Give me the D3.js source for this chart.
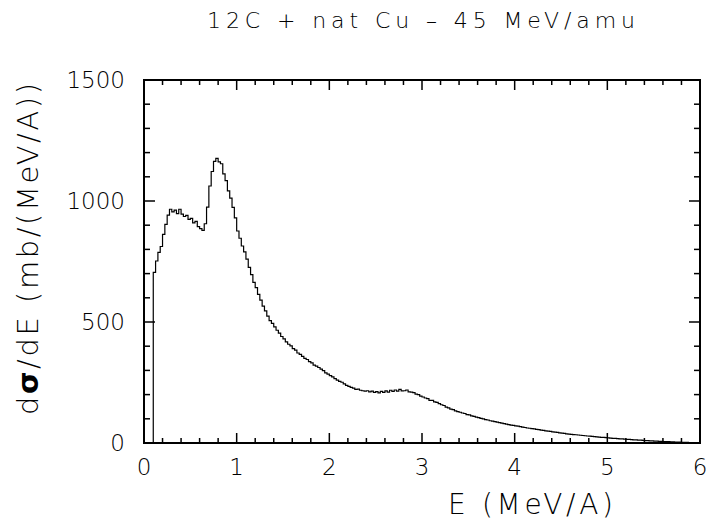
<!DOCTYPE html>
<html>
<head>
<meta charset="utf-8">
<script src="https://cdn.jsdelivr.net/npm/d3@7"></script>
<style>
  body { margin: 0; background: #fff; }
  svg { display: block; }
  text { font-family: "DejaVu Sans", "Liberation Sans", sans-serif; font-weight: 200; fill: #000; }
</style>
</head>
<body>
<svg width="706" height="524"></svg>
<script>
// histogram: 0 -> 6 MeV/A, bin width 0.025
const binWidth = 0.025;
const xDomain = [0, 6];
const yDomain = [0, 1500];
const xTickLabels = ["0", "1", "2", "3", "4", "5", "6"];
const yTickLabels = ["0", "500", "1000", "1500"];
const titleText = "12C  +  nat  Cu  \u2013  45  MeV/amu";

const counts = [
  0, 0, 0, 0,
  705, 752, 788, 812,
  862, 903, 942, 966,
  955, 962, 948, 966,
  946, 936, 941, 924,
  928, 910, 916, 894,
  886, 879, 906, 975,
  1062, 1122, 1164, 1176,
  1162, 1154, 1112, 1084,
  1042, 1012, 974, 930,
  876, 846, 814, 790,
  760, 726, 696, 664,
  642, 614, 590, 566,
  546, 524, 506, 494,
  480, 466, 454, 440,
  430, 418, 408, 401,
  390, 384, 372, 366,
  358, 350, 345, 336,
  331, 322, 318, 312,
  305, 299, 290, 285,
  278, 273, 266, 260,
  255, 251, 244, 238,
  234, 230, 227, 222,
  223, 218, 216, 214,
  216, 211, 214, 209,
  212, 207, 213, 209,
  215, 210, 218, 213,
  219, 214, 222, 215,
  216, 219, 211, 210,
  208, 202, 200, 194,
  190, 186, 183, 176,
  176, 170, 168, 163,
  158, 155, 148, 145,
  140, 138, 133, 130,
  127, 124, 122, 117,
  116, 112, 110, 107,
  105, 102, 100, 97,
  95, 92, 90, 88,
  86, 84, 82, 80,
  78, 76, 74, 73,
  71, 70, 68, 66,
  64, 62, 61, 59,
  58, 56, 55, 53,
  52, 50, 49, 48,
  46, 45, 44, 42,
  41, 40, 38, 37,
  36, 35, 34, 33,
  32, 31, 30, 29,
  28, 27, 26, 25,
  24, 23, 23, 22,
  21, 20, 19, 19,
  18, 17, 17, 16,
  15, 15, 14, 13,
  13, 12, 12, 11,
  10, 10, 9, 9,
  8, 8, 7, 7,
  6, 6, 6, 5,
  5, 4, 4, 4,
  3, 3, 3, 2,
  2, 2, 1, 1
];

const svg = d3.select("svg");
const frame = { left: 144, right: 700, top: 80, bottom: 443 };

const x = d3.scaleLinear().domain(xDomain).range([frame.left, frame.right]);
const y = d3.scaleLinear().domain(yDomain).range([frame.bottom, frame.top]);

// histogram as a step line
const pts = counts.map((c, i) => [i * binWidth, c]);
pts.push([counts.length * binWidth, counts[counts.length - 1]]);

const line = d3.line()
    .x(d => x(d[0]))
    .y(d => y(d[1]))
    .curve(d3.curveStepAfter);

svg.append("path")
    .datum(pts)
    .attr("fill", "none")
    .attr("stroke", "#000")
    .attr("stroke-width", 1.2)
    .attr("d", line);

// ticks (major + minor) on all four sides
const xMinor = d3.range(0, 6.0001, 0.2).map(v => +v.toFixed(2));
const yMinor = d3.range(0, 1500.1, 100);

const tickG = svg.append("g").attr("stroke", "#000").attr("stroke-width", 1.5);

xMinor.forEach(v => {
    const major = Math.abs(v - Math.round(v)) < 1e-6;
    const len = major ? 10 : 5;
    tickG.append("line")
        .attr("x1", x(v)).attr("x2", x(v))
        .attr("y1", frame.bottom).attr("y2", frame.bottom - len);
    tickG.append("line")
        .attr("x1", x(v)).attr("x2", x(v))
        .attr("y1", frame.top).attr("y2", frame.top + len);
});

yMinor.forEach(v => {
    const major = v % 500 === 0;
    const len = major ? 11 : 6;
    tickG.append("line")
        .attr("x1", frame.left).attr("x2", frame.left + len)
        .attr("y1", y(v)).attr("y2", y(v));
    tickG.append("line")
        .attr("x1", frame.right).attr("x2", frame.right - len)
        .attr("y1", y(v)).attr("y2", y(v));
});

// frame
svg.append("rect")
    .attr("x", frame.left).attr("y", frame.top)
    .attr("width", frame.right - frame.left).attr("height", frame.bottom - frame.top)
    .attr("fill", "none")
    .attr("stroke", "#000")
    .attr("stroke-width", 2);

// tick labels
svg.selectAll(".xlab")
    .data(xTickLabels)
    .enter().append("text")
    .attr("class", "xlab")
    .attr("x", d => x(+d))
    .attr("y", 475)
    .attr("text-anchor", "middle")
    .attr("font-size", 23)
    .text(d => d);

svg.selectAll(".ylab")
    .data(yTickLabels)
    .enter().append("text")
    .attr("class", "ylab")
    .attr("x", 125)
    .attr("y", d => y(+d) + 8)
    .attr("text-anchor", "end")
    .attr("font-size", 23)
    .text(d => d);

// title
svg.append("text")
    .attr("x", 207)
    .attr("y", 28)
    .attr("font-size", 22)
    .attr("textLength", 428)
    .attr("lengthAdjust", "spacing")
    .text(titleText);

// axis titles
svg.append("text")
    .attr("x", 613)
    .attr("y", 514)
    .attr("text-anchor", "end")
    .attr("font-size", 28)
    .attr("textLength", 165)
    .attr("lengthAdjust", "spacing")
    .text("E  (MeV/A)");

const yTitle = svg.append("text")
    .attr("transform", "translate(38,415) rotate(-90)")
    .attr("font-size", 29)
    .attr("textLength", 332)
    .attr("lengthAdjust", "spacing");
yTitle.append("tspan").text("d");
yTitle.append("tspan").attr("font-weight", 700).text("\u03c3");
yTitle.append("tspan").text("/dE  (mb/(MeV/A))");
</script>
</body>
</html>
